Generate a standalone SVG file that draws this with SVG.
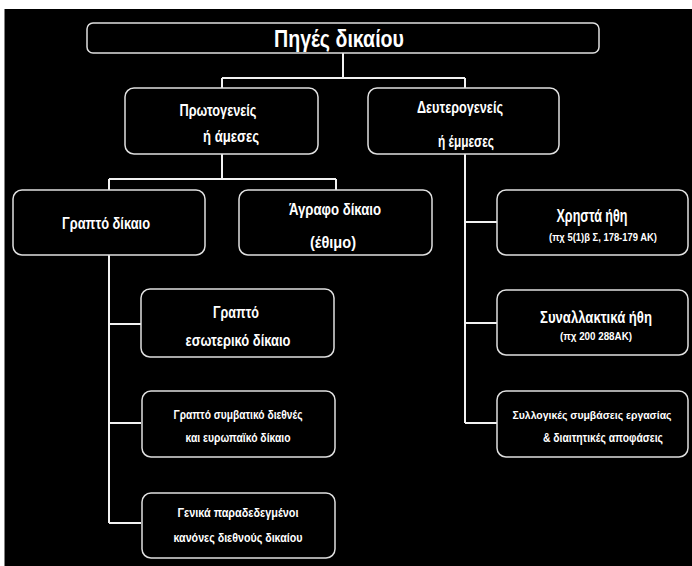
<svg xmlns="http://www.w3.org/2000/svg" width="692" height="566" viewBox="0 0 692 566">
<style>
.box{fill:#000;stroke:#e0e0e0;stroke-width:1.5}
.t{fill:#fff;font-family:"Liberation Sans Narrow","Liberation Sans",Arial,sans-serif;text-anchor:middle;font-weight:bold}
.c{stroke:#f2f2f2;stroke-width:2;fill:none}
</style>
<rect x="0" y="0" width="692" height="566" fill="#000"/>
<rect x="0" y="0" width="692" height="9" fill="#fff"/>
<rect x="0" y="0" width="4.5" height="566" fill="#fff"/>
<g id="connectors">
<path class="c" d="M343 53V78M222 78H465M222 78V88M465 78V88"/>
<path class="c" d="M222 154V179M109 179H336M109 179V190M336 179V190"/>
<path class="c" d="M109 255V523M109 324H141M109 423H141M109 523H141"/>
<path class="c" d="M465 154V423M465 222H497M465 323H497M465 423H497"/>
</g>
<g id="root"><rect class="box" x="87" y="23" width="512" height="30" rx="6"/><text class="t" x="339" y="47" font-size="23" textLength="130" lengthAdjust="spacingAndGlyphs">Πηγές δικαίου</text></g>
<g id="primary"><rect class="box" x="125" y="88" width="193" height="66" rx="9"/><text class="t" x="218" y="116" font-size="17" textLength="77" lengthAdjust="spacingAndGlyphs">Πρωτογενείς</text><text class="t" x="231" y="142" font-size="17" textLength="56" lengthAdjust="spacingAndGlyphs">ή άμεσες</text></g>
<g id="secondary"><rect class="box" x="368" y="88" width="191" height="66" rx="9"/><text class="t" x="460" y="113" font-size="17" textLength="86" lengthAdjust="spacingAndGlyphs">Δευτερογενείς</text><text class="t" x="466" y="147" font-size="17" textLength="56" lengthAdjust="spacingAndGlyphs">ή έμμεσες</text></g>
<g id="written"><rect class="box" x="13" y="190" width="192" height="65" rx="9"/><text class="t" x="106" y="229" font-size="17" textLength="88" lengthAdjust="spacingAndGlyphs">Γραπτό δίκαιο</text></g>
<g id="unwritten"><rect class="box" x="239" y="190" width="193" height="65" rx="9"/><text class="t" x="335" y="215" font-size="17" textLength="92" lengthAdjust="spacingAndGlyphs">Άγραφο δίκαιο</text><text class="t" x="333" y="248" font-size="17" textLength="46" lengthAdjust="spacingAndGlyphs">(έθιμο)</text></g>
<g id="internal"><rect class="box" x="141" y="289" width="193" height="68" rx="9"/><text class="t" x="236" y="318" font-size="17" textLength="46" lengthAdjust="spacingAndGlyphs">Γραπτό</text><text class="t" x="238" y="346" font-size="17" textLength="105" lengthAdjust="spacingAndGlyphs">εσωτερικό δίκαιο</text></g>
<g id="international"><rect class="box" x="142" y="391" width="193" height="66" rx="9"/><text class="t" x="238" y="419" font-size="13" textLength="129" lengthAdjust="spacingAndGlyphs">Γραπτό συμβατικό διεθνές</text><text class="t" x="238" y="442" font-size="13" textLength="105" lengthAdjust="spacingAndGlyphs">και ευρωπαϊκό δίκαιο</text></g>
<g id="general"><rect class="box" x="142" y="493" width="193" height="65" rx="9"/><text class="t" x="238" y="517" font-size="13" textLength="121" lengthAdjust="spacingAndGlyphs">Γενικά παραδεδεγμένοι</text><text class="t" x="238" y="542" font-size="13" textLength="129" lengthAdjust="spacingAndGlyphs">κανόνες διεθνούς δικαίου</text></g>
<g id="morals"><rect class="box" x="497" y="190" width="191" height="65" rx="9"/><text class="t" x="592" y="222" font-size="19" textLength="71" lengthAdjust="spacingAndGlyphs">Χρηστά ήθη</text><text class="t" x="603" y="241" font-size="11" textLength="108" lengthAdjust="spacingAndGlyphs">(πχ 5(1)β Σ, 178-179 ΑΚ)</text></g>
<g id="customs"><rect class="box" x="497" y="290" width="191" height="65" rx="9"/><text class="t" x="596" y="323" font-size="17" textLength="112" lengthAdjust="spacingAndGlyphs">Συναλλακτικά ήθη</text><text class="t" x="596" y="340" font-size="11" textLength="72" lengthAdjust="spacingAndGlyphs">(πχ 200  288ΑΚ)</text></g>
<g id="collective"><rect class="box" x="497" y="391" width="191" height="66" rx="9"/><text class="t" x="592" y="419" font-size="11.5" textLength="159" lengthAdjust="spacingAndGlyphs">Συλλογικές συμβάσεις εργασίας</text><text class="t" x="603" y="442" font-size="12" textLength="120" lengthAdjust="spacingAndGlyphs">&amp; διαιτητικές αποφάσεις</text></g>
</svg>
